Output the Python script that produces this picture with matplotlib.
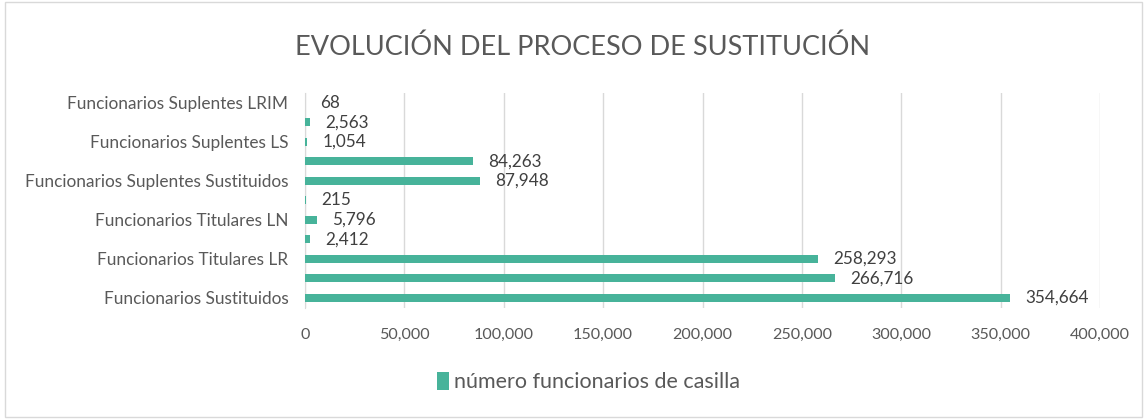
import matplotlib
matplotlib.use("Agg")
import matplotlib.pyplot as plt
from matplotlib.patches import Rectangle
from matplotlib.ticker import FuncFormatter

categories = [
    "Funcionarios Sustituidos",
    "Funcionarios Titulares Sustituidos",
    "Funcionarios Titulares LR",
    "Funcionarios Titulares LS",
    "Funcionarios Titulares LN",
    "Funcionarios Titulares LRIM",
    "Funcionarios Suplentes Sustituidos",
    "Funcionarios Suplentes LR",
    "Funcionarios Suplentes LS",
    "Funcionarios Suplentes LN",
    "Funcionarios Suplentes LRIM",
]
values = [354664, 266716, 258293, 2412, 5796, 215, 87948, 84263, 1054, 2563, 68]
series_name = "número funcionarios de casilla"
title = "EVOLUCIÓN DEL PROCESO DE SUSTITUCIÓN"

plt.rcParams['font.family'] = ['Lato', 'DejaVu Sans']
text_color = "#595959"
bar_color = "#47b39a"

fig = plt.figure(figsize=(11.47, 4.19), dpi=100)
ax = fig.add_axes([0.266, 0.266, 0.693, 0.512])

pos = list(range(len(categories)))
ax.barh(pos, values, height=0.42, color=bar_color, label=series_name, zorder=3)
for p, v in zip(pos, values):
    ax.annotate(f"{v:,}", (v, p), xytext=(11, 0), textcoords="offset points",
                va="center", ha="left", fontsize=12.3, color="#404040")

ax.set_ylim(-0.5, len(categories) - 0.5)
ax.set_xlim(0, 400000)
ax.set_xticks(range(0, 400001, 50000))
ax.xaxis.set_major_formatter(FuncFormatter(lambda x, _: f"{int(x):,}"))
ax.set_yticks(pos[::2])
ax.set_yticklabels(categories[::2])
ax.tick_params(axis="both", length=0, colors=text_color)
ax.tick_params(axis="y", pad=12, labelsize=12.4)
ax.tick_params(axis="x", pad=15, labelsize=11.6)

ax.grid(axis="x", color="#d9d9d9", linewidth=1, zorder=0)
for s in ["top", "right", "bottom"]:
    ax.spines[s].set_visible(False)
ax.spines["left"].set_color("#d9d9d9")

fig.text(0.508, 0.888, title, ha="center", va="center", fontsize=19.5, color=text_color)

leg = ax.legend(loc="center", frameon=False, fontsize=15.5, handlelength=0.55,
                handleheight=0.9, handletextpad=0.25)
leg.set_bbox_to_anchor((0.513, 0.088), transform=fig.transFigure)
for t in leg.get_texts():
    t.set_color(text_color)

fig.patches.append(Rectangle((0.004, 0.005), 0.992, 0.99, transform=fig.transFigure,
                             fill=False, edgecolor="#d9d9d9", linewidth=1))

fig.savefig("out.png", dpi=100)
